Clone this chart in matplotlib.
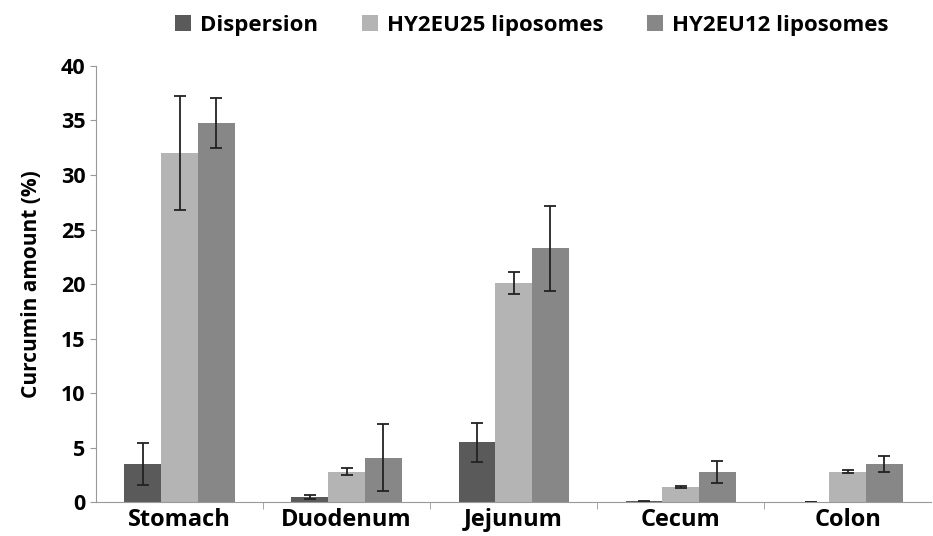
import numpy as np
import matplotlib.pyplot as plt

plt.rcParams['font.family'] = ['Open Sans', 'DejaVu Sans']
plt.rcParams['font.weight'] = 'bold'

sites = ['Stomach', 'Duodenum', 'Jejunum', 'Cecum', 'Colon']
series = ['Dispersion', 'HY2EU25 liposomes', 'HY2EU12 liposomes']
dispersion = [3.5, 0.5, 5.5, 0.1, 0.0]
dispersion_err = [1.9, 0.2, 1.8, 0.05, 0.0]
hy25 = [32.0, 2.8, 20.1, 1.4, 2.8]
hy25_err = [5.2, 0.3, 1.0, 0.05, 0.15]
hy12 = [34.8, 4.1, 23.3, 2.8, 3.5]
hy12_err = [2.3, 3.1, 3.9, 1.0, 0.7]
colors = ['#5a5a5a', '#b4b4b4', '#878787']

fig = plt.figure(figsize=(9.33, 5.36), dpi=100)
ax = fig.add_axes([0.103, 0.063, 0.895, 0.814])

x = np.arange(len(sites))
w = 0.22
vals = [dispersion, hy25, hy12]
errs = [dispersion_err, hy25_err, hy12_err]
for i in range(3):
    ax.bar(x + (i - 1) * w, vals[i], w, color=colors[i], label=series[i],
           yerr=errs[i], capsize=4,
           error_kw={'ecolor': '#222222', 'elinewidth': 1.3, 'capthick': 1.3})

ax.set_xlim(-0.5, len(sites) - 0.5)
ax.set_ylim(0, 40)
ax.set_yticks(range(0, 41, 5))
ax.set_xticks(x)
ax.set_xticklabels(sites, fontsize=17, fontweight='bold')
ax.set_xticks(np.arange(0.5, len(sites) - 1, 1), minor=True)
ax.tick_params(axis='x', which='major', length=0, pad=4)
ax.tick_params(axis='x', which='minor', length=5, color='#999999')
ax.tick_params(axis='y', labelsize=15.5, length=4, color='#999999')
for lab in ax.get_yticklabels():
    lab.set_fontweight('bold')
ax.set_ylabel('Curcumin amount (%)', fontsize=15, fontweight='bold', labelpad=14)
for s in ['top', 'right']:
    ax.spines[s].set_visible(False)
for s in ['left', 'bottom']:
    ax.spines[s].set_color('#999999')

fig.legend(loc='upper center', bbox_to_anchor=(0.57, 1.01), ncol=3, frameon=False,
           fontsize=16, handlelength=0.7, handleheight=0.7, columnspacing=2.0,
           handletextpad=0.4)

fig.savefig('out.png')
